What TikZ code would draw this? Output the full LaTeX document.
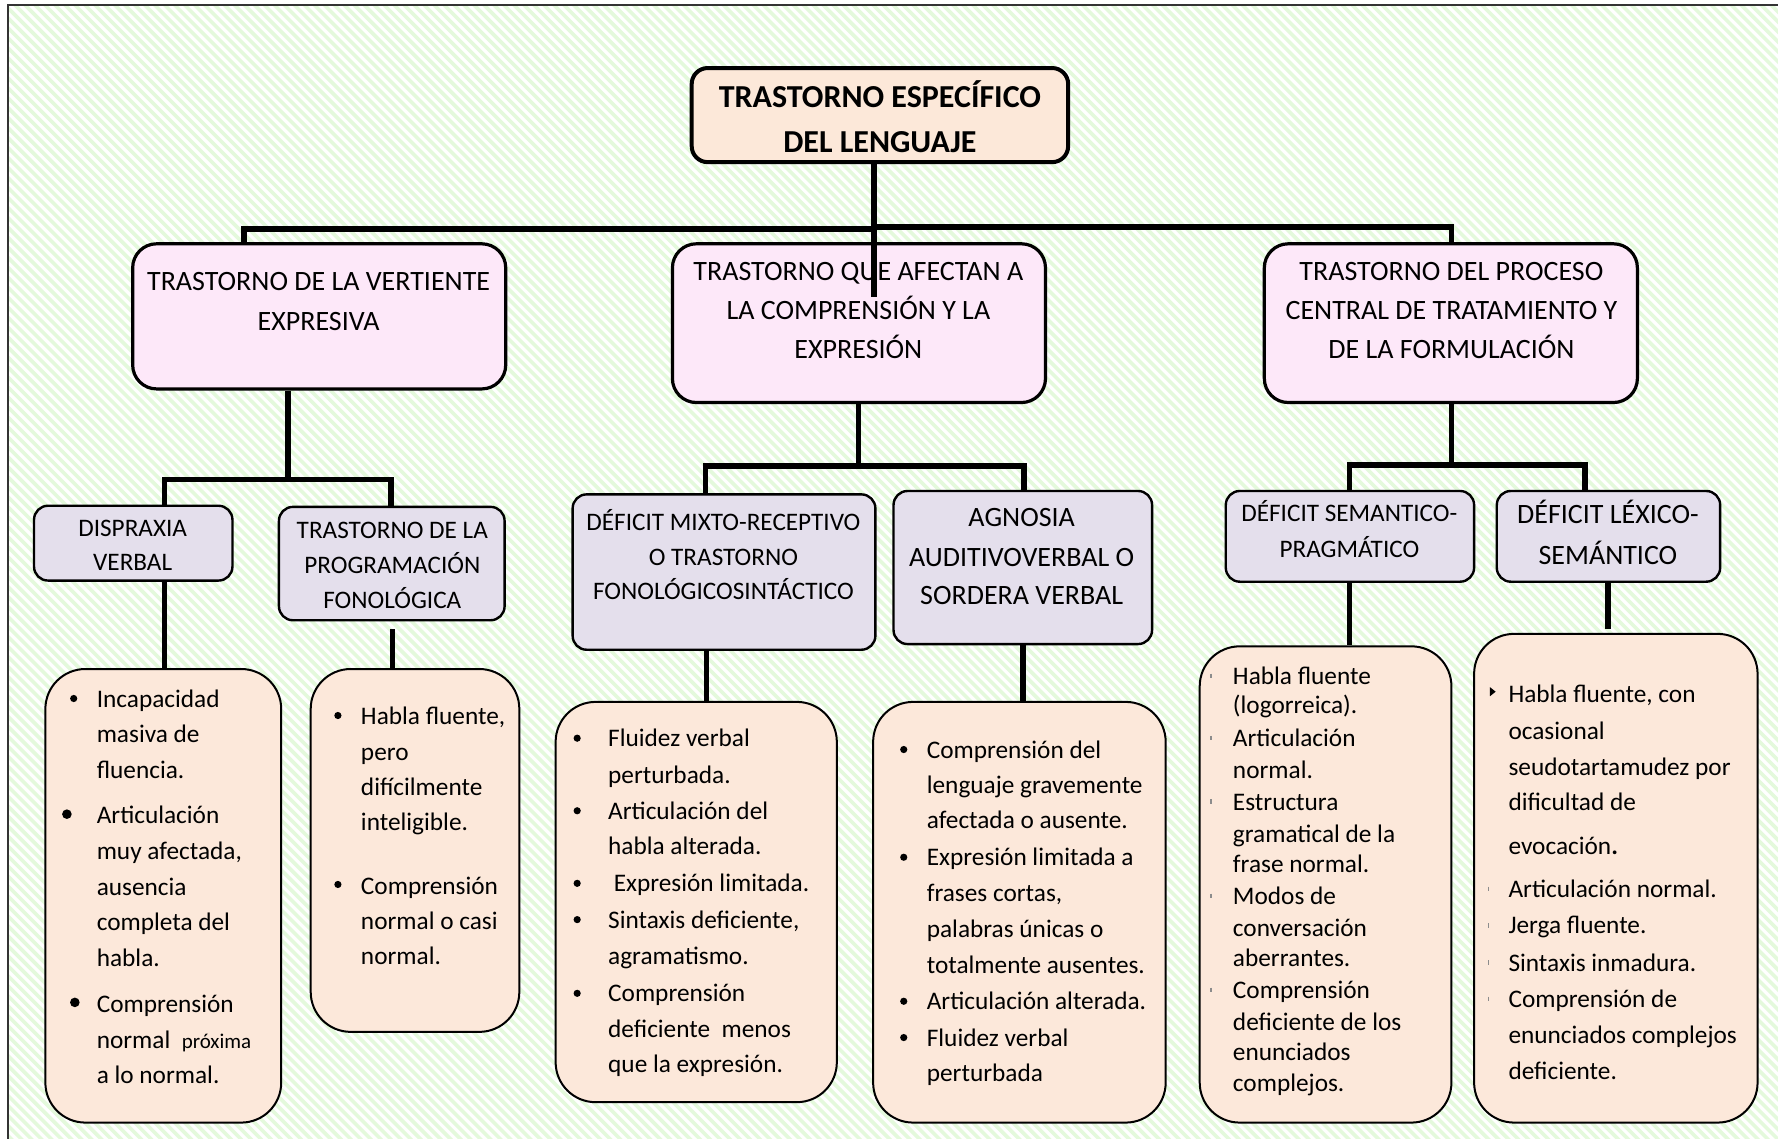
\documentclass[tikz,border=0pt]{standalone}
\usepackage{fontspec}
\setmainfont{Carlito}
\usetikzlibrary{fit}

\definecolor{titlefill}{HTML}{FCE8D9}
\definecolor{hfill}{HTML}{FDE8F9}
\definecolor{sfill}{HTML}{E4DFEC}
\definecolor{bfill}{HTML}{FCE8DA}
\definecolor{stripecol}{HTML}{E4F9DC}

\tikzset{
  titlebox/.style={draw, line width=2pt, rounded corners=8pt, fill=titlefill, inner sep=0pt},
  headbox/.style={draw, line width=1.6pt, rounded corners=12pt, fill=hfill, inner sep=0pt},
  subbox/.style={draw, line width=1.2pt, rounded corners=7pt, fill=sfill, inner sep=0pt},
  bulbox/.style={draw, line width=1pt, rounded corners=20pt, fill=bfill, inner sep=0pt},
  conn/.style={line width=2.8pt},
  titletxt/.style={anchor=base, inner sep=0pt, font=\fontsize{16}{19}\selectfont\bfseries, yshift=-5.4pt},
  headtxt/.style={anchor=base, inner sep=0pt, font=\fontsize{14}{17}\selectfont, yshift=-4.8pt},
  subtxt/.style={anchor=base, inner sep=0pt, font=\fontsize{12.6}{15}\selectfont, yshift=-4.5pt},
  bigsubtxt/.style={anchor=base, inner sep=0pt, font=\fontsize{14}{17}\selectfont, yshift=-4.8pt},
  bodytxt/.style={anchor=base west, inner sep=0pt, font=\fontsize{12.65}{15}\selectfont, yshift=-4.3pt},
  bul/.style={fill=black},
  tick/.style={draw=black!45, line width=0.6pt},
}

\newcommand\mytextlines[4]{%
  \foreach \lyy/\ltx [count=\ii] in {#4}
    \node[#3] (#1-\ii) at (#2,\lyy) {\ltx};}

\begin{document}
\begin{tikzpicture}[x=0.567pt,y=-0.567pt]
\useasboundingbox (0,0) rectangle (1568,1004);
% background
\fill[white] (0,0) rectangle (1568,1004);
\begin{scope}
  \clip (7,4) rectangle (1568,1004);
  \foreach \k in {-120,...,182}
    \draw[stripecol, line width=1.8pt] (\k*8.8,0) -- ++(1010,1010);
\end{scope}
\draw[line width=1pt, black!80] (7,1010) -- (7,4) -- (1575,4);

% title
\node[titlebox, fit={(610,60) (942,143)}] (t) {};
\mytextlines{tt}{776}{titletxt}{85/{TRASTORNO ESPECÍFICO}, 125/{DEL LENGUAJE}}

% headers
\node[headbox, fit={(117,215) (446,343)}] (h1) {};
\node[headbox, fit={(593,215) (922,355)}] (h2) {};
\node[headbox, fit={(1115,215) (1444,355)}] (h3) {};
\mytextlines{h1t}{281}{headtxt}{248/{TRASTORNO DE LA VERTIENTE}, 283/{EXPRESIVA}}
\mytextlines{h2t}{757}{headtxt}{239/{TRASTORNO QUE AFECTAN A}, 273/{LA COMPRENSIÓN Y LA}, 308/{EXPRESIÓN}}
\mytextlines{h3t}{1280}{headtxt}{239/{TRASTORNO DEL PROCESO}, 273/{CENTRAL DE TRATAMIENTO Y}, 308/{DE LA FORMULACIÓN}}

% level 1 connectors
\coordinate (trunkEnd) at (771,262);
\coordinate (busL) at (215,202);
\coordinate (busR) at (1280,200);
\draw[conn] (t.south -| trunkEnd) -- (trunkEnd);
\draw[conn] (h1.north -| busL) -- (busL) -- (busL -| trunkEnd);
\draw[conn] (trunkEnd |- busR) -- (busR) -- (h3.north -| busR);

% sub headers
\node[subbox, fit={(30,446) (205,512)}] (s1) {};
\node[subbox, fit={(246,447) (445,547)}] (s2) {};
\node[subbox, fit={(505,436) (772,573)}] (s3) {};
\node[subbox, fit={(788,433) (1016,568)}] (s4) {};
\node[subbox, fit={(1081,433) (1300,513)}] (s5) {};
\node[subbox, fit={(1320,433) (1517,513)}] (s6) {};
\mytextlines{s1t}{117}{subtxt}{465/{DISPRAXIA}, 495/{VERBAL}}
\mytextlines{s2t}{346}{subtxt}{467/{TRASTORNO DE LA}, 498/{PROGRAMACIÓN}, 529/{FONOLÓGICA}}
\mytextlines{s3t}{638}{subtxt}{460/{DÉFICIT MIXTO-RECEPTIVO}, 491/{O TRASTORNO}, 521/{FONOLÓGICOSINTÁCTICO}}
\mytextlines{s4t}{901}{bigsubtxt}{456/{AGNOSIA}, 491/{AUDITIVOVERBAL O}, 525/{SORDERA VERBAL}}
\mytextlines{s5t}{1190}{subtxt}{452/{DÉFICIT SEMANTICO-}, 484/{PRAGMÁTICO}}
\mytextlines{s6t}{1418}{bigsubtxt}{453/{DÉFICIT LÉXICO-}, 489/{SEMÁNTICO}}

% level 2 connectors
\coordinate (ja) at (254,423); \coordinate (jaL) at (145,423); \coordinate (jaR) at (345,423);
\draw[conn] (h1.south -| ja) -- (ja);
\draw[conn] (s1.north -| jaL) -- (jaL) -- (jaR) -- (s2.north -| jaR);
\coordinate (jb) at (757,411); \coordinate (jbL) at (622,411); \coordinate (jbR) at (903,411);
\draw[conn] (h2.south -| jb) -- (jb);
\draw[conn] (s3.north -| jbL) -- (jbL) -- (jbR) -- (s4.north -| jbR);
\coordinate (jc) at (1280,410); \coordinate (jcL) at (1190,410); \coordinate (jcR) at (1398,410);
\draw[conn] (h3.south -| jc) -- (jc);
\draw[conn] (s5.north -| jcL) -- (jcL) -- (jcR) -- (s6.north -| jcR);

% bullet boxes
\node[bulbox, fit={(40,590) (248,990)}] (b1) {};
\node[bulbox, fit={(274,590) (458,910)}] (b2) {};
\node[bulbox, fit={(490,619) (738,972)}] (b3) {};
\node[bulbox, fit={(770,619) (1028,990)}] (b4) {};
\node[bulbox, fit={(1058,570) (1280,990)}] (b5) {};
\node[bulbox, fit={(1300,559) (1550,990)}] (b6) {};

% level 3 connectors
\coordinate (x1) at (145,512);
\coordinate (x2) at (346,555);
\coordinate (x3) at (623,573);
\coordinate (x4) at (902,568);
\coordinate (x5) at (1190,513);
\coordinate (x6) at (1418,555);
\draw[conn] (s1.south -| x1) -- (b1.north -| x1);
\draw[conn] (x2) -- (b2.north -| x2);
\draw[conn] (s3.south -| x3) -- (b3.north -| x3);
\draw[conn] (s4.south -| x4) -- (b4.north -| x4);
\draw[conn] (s5.south -| x5) -- (b5.north -| x5);
\draw[conn] (s6.south -| x6) -- (x6);

% box texts
\mytextlines{b1t}{85}{bodytxt}{616/{Incapacidad}, 647/{masiva de}, 679/{fluencia.}, 719/{Articulación}, 750/{muy afectada,}, 782/{ausencia}, 813/{completa del}, 845/{habla.}, 885/{Comprensión}, 917/{normal\ \ {\fontsize{10.5}{12}\selectfont próxima}}, 948/{a lo normal.}}
\fill[bul] (65,616) circle[radius=1.8pt];
\fill[bul] (59,718) circle[radius=2.4pt];
\fill[bul] (66,884) circle[radius=2.4pt];

\mytextlines{b2t}{318}{bodytxt}{631/{Habla fluente,}, 663/{pero}, 694/{difícilmente}, 725/{inteligible.}, 781/{Comprensión}, 812/{normal o casi}, 843/{normal.}}
\fill[bul] (298,631) circle[radius=1.8pt];
\fill[bul] (298,780) circle[radius=1.8pt];

\mytextlines{b3t}{536}{bodytxt}{651/{Fluidez verbal}, 683/{perturbada.}, 715/{Articulación del}, 746/{habla alterada.}, 779/{\hspace*{2.8pt}Expresión limitada.}, 811/{Sintaxis deficiente,}, 843/{agramatismo.}, 876/{Comprensión}, 907/{deficiente\ \ menos}, 938/{que la expresión.}}
\foreach \yy in {651,715,779,811,876} \fill[bul] (509,\yy) circle[radius=1.8pt];

\mytextlines{b4t}{817}{bodytxt}{661/{Comprensión del}, 692/{lenguaje gravemente}, 723/{afectada o ausente.}, 756/{Expresión limitada a}, 787/{frases cortas,}, 819/{palabras únicas o}, 851/{totalmente ausentes.}, 883/{Articulación alterada.}, 915/{Fluidez verbal}, 946/{perturbada}}
\foreach \yy in {661,756,883,915} \fill[bul] (797,\yy) circle[radius=1.8pt];

\mytextlines{b5t}{1087}{bodytxt}{596/{Habla fluente}, 622/{(logorreica).}, 651/{Articulación}, 679/{normal.}, 707/{Estructura}, 735/{gramatical de la}, 762/{frase normal.}, 790/{Modos de}, 818/{conversación}, 845/{aberrantes.}, 873/{Comprensión}, 901/{deficiente de los}, 928/{enunciados}, 955/{complejos.}}
\foreach \yy in {596,651,707,790,873} \draw[tick] (1068,\yy-2) -- (1068,\yy+2);

\mytextlines{b6t}{1330}{bodytxt}{612/{Habla fluente, con}, 645/{ocasional}, 676/{seudotartamudez por}, 707/{dificultad de}, 746/{evocación{\bfseries .}}, 784/{Articulación normal.}, 816/{Jerga fluente.}, 849/{Sintaxis inmadura.}, 881/{Comprensión de}, 913/{enunciados complejos}, 944/{deficiente.}}
\fill (1314,606) -- (1319,610) -- (1314,614) -- cycle;
\foreach \yy in {784,816,849,881} \draw[tick] (1313,\yy-2) -- (1313,\yy+2);
\end{tikzpicture}
\end{document}
